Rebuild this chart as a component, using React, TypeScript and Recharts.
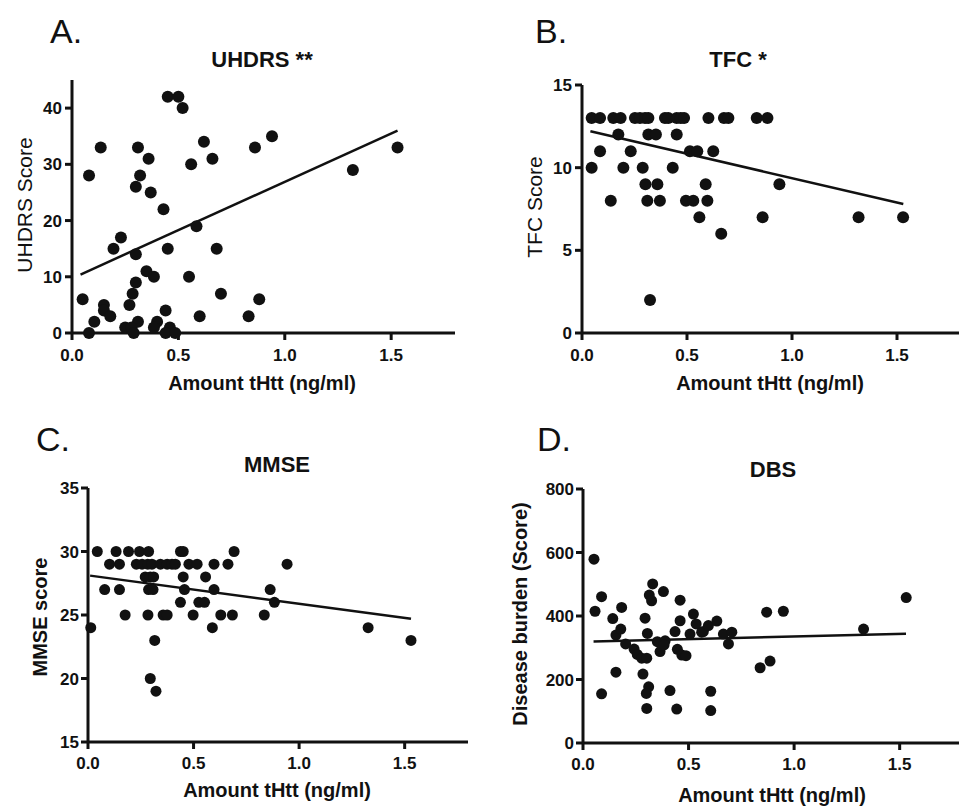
import { ScatterChart, Scatter, XAxis, YAxis, ReferenceLine } from 'recharts'

const FONT = '"Liberation Sans", Arial, Helvetica, sans-serif'
const INK = '#111'

// shared x axis
const xTicks = [0, 0.5, 1, 1.5]
const xDomain: [number, number] = [0, 1.8]

// A. UHDRS
const uhdrsTicks = [0, 10, 20, 30, 40]
const uhdrsDomain: [number, number] = [0, 45]
const uhdrsPoints: [number, number][] = [
  [0.45, 42], [0.5, 42], [0.52, 40], [0.135, 33], [0.31, 33], [0.36, 31], [0.08, 28],
  [0.32, 28], [0.3, 26], [0.37, 25], [0.43, 22], [0.62, 34], [0.66, 31], [0.56, 30],
  [0.86, 33], [0.94, 35], [1.32, 29], [1.53, 33], [0.585, 19], [0.23, 17], [0.195, 15],
  [0.3, 14], [0.45, 15], [0.68, 15], [0.35, 11], [0.385, 10], [0.55, 10], [0.3, 9],
  [0.285, 7], [0.7, 7], [0.05, 6], [0.88, 6], [0.15, 5], [0.27, 5], [0.15, 4],
  [0.18, 3], [0.44, 4], [0.6, 3], [0.83, 3], [0.105, 2], [0.4, 2], [0.31, 2],
  [0.25, 1], [0.28, 1], [0.385, 1], [0.46, 1], [0.08, 0], [0.29, 0], [0.44, 0], [0.485, 0],
]
const uhdrsFit: [number, number][] = [[0.04, 10.4], [1.53, 36]]

// B. TFC
const tfcTicks = [0, 5, 10, 15]
const tfcDomain: [number, number] = [0, 15]
const tfcPoints: [number, number][] = [
  [0.046, 13], [0.086, 13], [0.149, 13], [0.184, 13], [0.252, 13], [0.276, 13], [0.3, 13],
  [0.316, 13], [0.395, 13], [0.411, 13], [0.451, 13], [0.47, 13], [0.486, 13], [0.602, 13],
  [0.676, 13], [0.697, 13], [0.832, 13], [0.883, 13],
  [0.173, 12], [0.316, 12], [0.352, 12], [0.451, 12],
  [0.086, 11], [0.232, 11], [0.514, 11], [0.549, 11], [0.625, 11],
  [0.046, 10], [0.197, 10], [0.289, 10], [0.432, 10],
  [0.302, 9], [0.359, 9], [0.589, 9], [0.94, 9],
  [0.137, 8], [0.311, 8], [0.371, 8], [0.495, 8], [0.53, 8], [0.597, 8],
  [0.559, 7], [0.86, 7], [1.317, 7], [1.529, 7],
  [0.663, 6], [0.324, 2],
]
const tfcFit: [number, number][] = [[0.04, 12.2], [1.53, 7.8]]

// C. MMSE
const mmseTicks = [15, 20, 25, 30, 35]
const mmseDomain: [number, number] = [15, 35]
const mmsePoints: [number, number][] = [
  [0.044, 30], [0.133, 30], [0.192, 30], [0.244, 30], [0.287, 30], [0.438, 30], [0.451, 30], [0.692, 30],
  [0.102, 29], [0.149, 29], [0.229, 29], [0.256, 29], [0.283, 29], [0.303, 29], [0.343, 29],
  [0.375, 29], [0.398, 29], [0.414, 29], [0.478, 29], [0.517, 29], [0.597, 29], [0.663, 29], [0.943, 29],
  [0.271, 28], [0.295, 28], [0.311, 28], [0.451, 28], [0.557, 28],
  [0.079, 27], [0.149, 27], [0.287, 27], [0.308, 27], [0.457, 27], [0.597, 27], [0.863, 27],
  [0.438, 26], [0.525, 26], [0.552, 26], [0.883, 26],
  [0.176, 25], [0.284, 25], [0.356, 25], [0.375, 25], [0.498, 25], [0.629, 25], [0.684, 25], [0.835, 25],
  [0.013, 24], [0.589, 24], [1.327, 24], [0.316, 23], [1.53, 23], [0.295, 20], [0.322, 19],
]
const mmseFit: [number, number][] = [[0.01, 28.1], [1.53, 24.7]]

// D. DBS
const dbsTicks = [0, 200, 400, 600, 800]
const dbsDomain: [number, number] = [0, 800]
const dbsPoints: [number, number][] = [
  [0.052, 579], [0.057, 415], [0.088, 461], [0.141, 392], [0.183, 427], [0.156, 340],
  [0.179, 359], [0.202, 312], [0.242, 296], [0.257, 279], [0.278, 267], [0.302, 267],
  [0.294, 393], [0.314, 466], [0.325, 448], [0.33, 501], [0.305, 345], [0.352, 319],
  [0.365, 288], [0.381, 477], [0.389, 322], [0.384, 309], [0.436, 351], [0.46, 385],
  [0.46, 450], [0.447, 295], [0.468, 277], [0.488, 275], [0.507, 343], [0.523, 406],
  [0.536, 375], [0.562, 349], [0.57, 351], [0.594, 370], [0.634, 384], [0.665, 343],
  [0.705, 349], [0.689, 312], [0.87, 412], [0.949, 415], [1.329, 359], [1.531, 458],
  [0.156, 223], [0.088, 155], [0.284, 217], [0.311, 177], [0.3, 156], [0.302, 109],
  [0.412, 165], [0.444, 107], [0.605, 163], [0.605, 102], [0.839, 237], [0.886, 258],
]
const dbsFit: [number, number][] = [[0.05, 320], [1.53, 344]]

interface PanelProps {
  left: number
  top: number
  width: number
  height: number
  margin: { top: number; right: number; bottom: number; left: number }
  points: [number, number][]
  fit: [number, number][]
  yTicks: number[]
  yDomain: [number, number]
  r: number
  xTickMargin: number
  yTickMargin: number
}

function Panel({ left, top, width, height, margin, points, fit, yTicks, yDomain, r, xTickMargin, yTickMargin }: PanelProps) {
  const data = points.map(([x, y]) => ({ x, y }))
  const tickStyle = { fill: INK, stroke: 'none', fontSize: 17, fontWeight: 'bold', fontFamily: FONT }
  const lineStyle = { stroke: INK, strokeWidth: 3 }
  return (
    <div style={{ position: 'absolute', left, top }}>
      <ScatterChart width={width} height={height} margin={margin}>
        <XAxis
          type="number"
          dataKey="x"
          domain={xDomain}
          ticks={xTicks}
          interval={0}
          tickFormatter={(v: number) => v.toFixed(1)}
          stroke={INK}
          tick={tickStyle}
          axisLine={lineStyle}
          tickLine={lineStyle}
          tickSize={7}
          tickMargin={xTickMargin}
          height={40}
        />
        <YAxis
          type="number"
          dataKey="y"
          domain={yDomain}
          ticks={yTicks}
          interval={0}
          stroke={INK}
          tick={tickStyle}
          axisLine={lineStyle}
          tickLine={lineStyle}
          tickSize={7}
          tickMargin={yTickMargin}
          width={50}
        />
        <Scatter
          data={data}
          isAnimationActive={false}
          shape={(p: any) => <circle cx={p.cx} cy={p.cy} r={r} fill={INK} />}
        />
        <ReferenceLine
          segment={[{ x: fit[0][0], y: fit[0][1] }, { x: fit[1][0], y: fit[1][1] }]}
          stroke={INK}
          strokeWidth={2.5}
          ifOverflow="visible"
        />
      </ScatterChart>
    </div>
  )
}

function Txt({ x, y, size, bold, children, anchor = 'middle', rotate = false }: any) {
  return (
    <text
      x={x}
      y={y}
      fontSize={size}
      fontWeight={bold ? 'bold' : 'normal'}
      fontFamily={FONT}
      fill={INK}
      textAnchor={anchor}
      transform={rotate ? `rotate(-90 ${x} ${y})` : undefined}
    >
      {children}
    </text>
  )
}

export default function App() {
  return (
    <div
      style={{
        position: 'absolute',
        left: 0,
        top: 0,
        width: 959,
        height: 807,
        overflow: 'hidden',
        background: '#fff',
      }}
    >
      <Panel left={0} top={0} width={480} height={400}
        margin={{ top: 80, right: 25, left: 22, bottom: 27 }}
        points={uhdrsPoints} fit={uhdrsFit} yTicks={uhdrsTicks} yDomain={uhdrsDomain}
        r={6} xTickMargin={9} yTickMargin={3} />
      <Panel left={480} top={0} width={490} height={400}
        margin={{ top: 85, right: 10, left: 52, bottom: 27 }}
        points={tfcPoints} fit={tfcFit} yTicks={tfcTicks} yDomain={tfcDomain}
        r={6} xTickMargin={9} yTickMargin={3} />
      <Panel left={0} top={400} width={480} height={407}
        margin={{ top: 88, right: 12, left: 38, bottom: 25 }}
        points={mmsePoints} fit={mmseFit} yTicks={mmseTicks} yDomain={mmseDomain}
        r={5.5} xTickMargin={8} yTickMargin={2} />
      <Panel left={480} top={400} width={495} height={407}
        margin={{ top: 89, right: 12, left: 53, bottom: 24 }}
        points={dbsPoints} fit={dbsFit} yTicks={dbsTicks} yDomain={dbsDomain}
        r={5.5} xTickMargin={8} yTickMargin={2} />

      {/* panel letters, titles, axis titles */}
      <svg width={959} height={807} style={{ position: 'absolute', left: 0, top: 0, pointerEvents: 'none' }}>
        <Txt x={50} y={43} size={34} anchor="start">A.</Txt>
        <Txt x={535} y={43} size={34} anchor="start">B.</Txt>
        <Txt x={36} y={451} size={34} anchor="start">C.</Txt>
        <Txt x={537} y={451} size={34} anchor="start">D.</Txt>

        <Txt x={262} y={67} size={22} bold>UHDRS **</Txt>
        <Txt x={738} y={67} size={22} bold>TFC *</Txt>
        <Txt x={277} y={472} size={22} bold>MMSE</Txt>
        <Txt x={773} y={477} size={22} bold>DBS</Txt>

        <Txt x={262} y={390} size={20} bold>Amount tHtt (ng/ml)</Txt>
        <Txt x={770} y={390} size={20} bold>Amount tHtt (ng/ml)</Txt>
        <Txt x={277} y={797} size={20} bold>Amount tHtt (ng/ml)</Txt>
        <Txt x={772} y={802} size={20} bold>Amount tHtt (ng/ml)</Txt>

        <Txt x={32} y={205} size={21} rotate>UHDRS Score</Txt>
        <Txt x={542} y={207} size={21} rotate>TFC Score</Txt>
        <Txt x={47} y={617} size={20} bold rotate>MMSE score</Txt>
        <Txt x={527} y={614} size={20} bold rotate>Disease burden (Score)</Txt>
      </svg>
    </div>
  )
}
